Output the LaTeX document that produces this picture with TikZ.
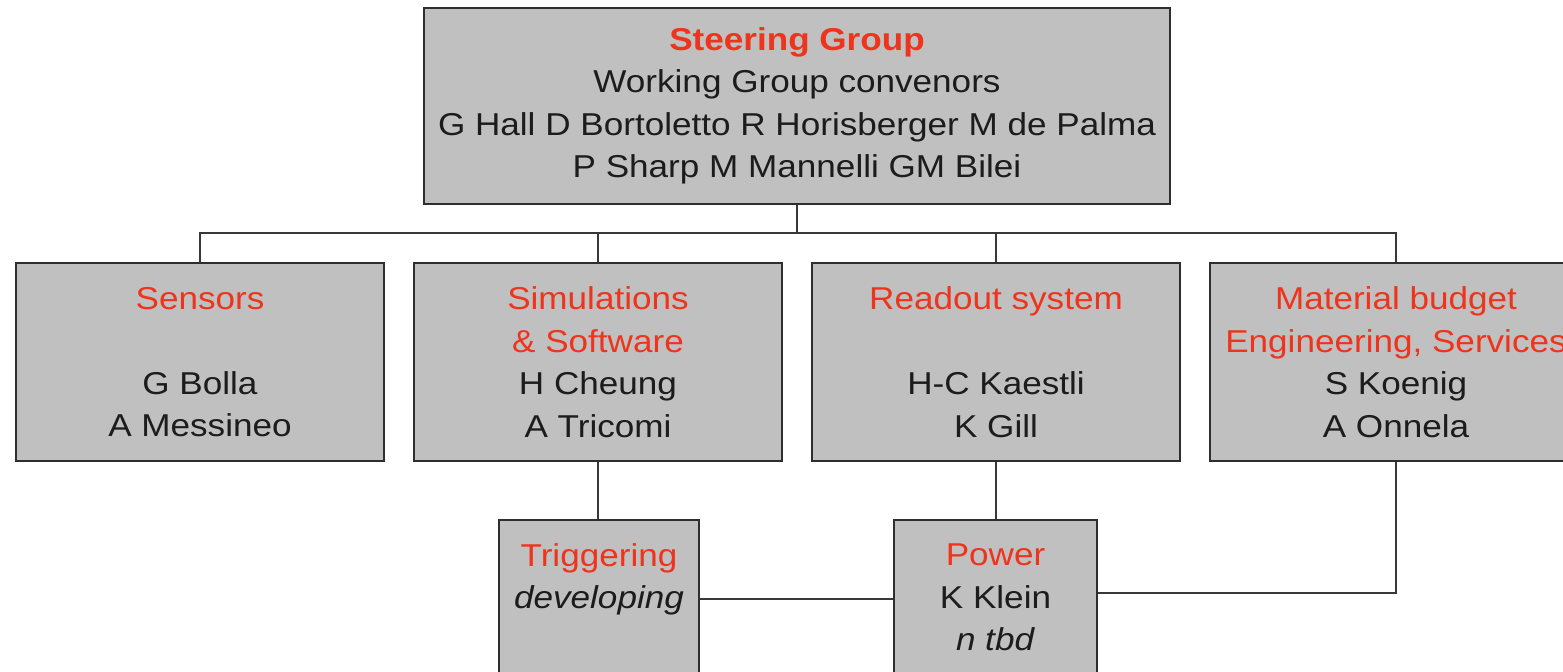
\documentclass[tikz,border=0pt]{standalone}
\usepackage{fontspec}
\setmainfont{Liberation Sans}[FakeStretch=1.11]
\usetikzlibrary{calc}
\definecolor{boxgray}{RGB}{192,192,192}
\definecolor{headred}{RGB}{238,52,28}
\definecolor{ink}{RGB}{28,28,28}
\newcommand{\hd}[1]{\textcolor{headred}{#1}}
\begin{document}
\begin{tikzpicture}[x=0.02cm, y=-0.02cm,
  orgbox/.style={draw=black!82, line width=1.4pt, fill=boxgray, align=center,
    inner sep=0pt, text=ink, font=\fontsize{18}{24.2}\selectfont},
  link/.style={draw=black!78, line width=1.1pt}]
\clip (0,0) rectangle (1563,672);
\fill[white] (0,0) rectangle (1563,672);

% steering group
\node[orgbox, minimum width=14.92cm, minimum height=3.92cm] (top) at (797,106)
  {\hd{\bfseries Steering Group}\\Working Group convenors\\G Hall D Bortoletto R Horisberger M de Palma\\P Sharp M Mannelli GM Bilei};

% working groups
\node[orgbox, minimum width=7.36cm, minimum height=3.96cm] (sens) at (200,362)
  {\hd{Sensors}\\\mbox{}\\G Bolla\\A Messineo};
\node[orgbox, minimum width=7.36cm, minimum height=3.96cm] (sim) at (598,362)
  {\hd{Simulations}\\\hd{\& Software}\\H Cheung\\A Tricomi};
\node[orgbox, minimum width=7.36cm, minimum height=3.96cm] (read) at (996,362)
  {\hd{Readout system}\\\mbox{}\\H-C Kaestli\\K Gill};
\node[orgbox, minimum width=7.44cm, minimum height=3.96cm] (mat) at (1396,362)
  {\hd{Material budget}\\\hd{Engineering, Services}\\S Koenig\\A Onnela};

% cross-cutting tasks
\node[orgbox, minimum width=4.0cm, minimum height=3.94cm] (trig) at (599,618.5)
  {\hd{Triggering}\\\textit{developing}\\\mbox{}\\\mbox{}};
\node[orgbox, minimum width=4.06cm, minimum height=3.94cm] (pow) at (995.5,618.5)
  {\hd{Power}\\K Klein\\\textit{n tbd}\\\mbox{}};

% tree connectors
\coordinate (bar) at (797,233);
\draw[link] (top.south) -- (top.south |- bar);
\draw[link] (sens.north) -- (sens.north |- bar) -- (mat.north |- bar) -- (mat.north);
\draw[link] (sim.north) -- (sim.north |- bar);
\draw[link] (read.north) -- (read.north |- bar);
\draw[link] (sim.south) -- (sim.south |- trig.north);
\draw[link] (read.south) -- (read.south |- pow.north);
\draw[link] ($(trig.north east)+(0,80)$) -- ($(pow.north west)+(0,80)$);
\draw[link] ($(pow.north east)+(0,74)$) -| (mat.south);
\end{tikzpicture}
\end{document}
